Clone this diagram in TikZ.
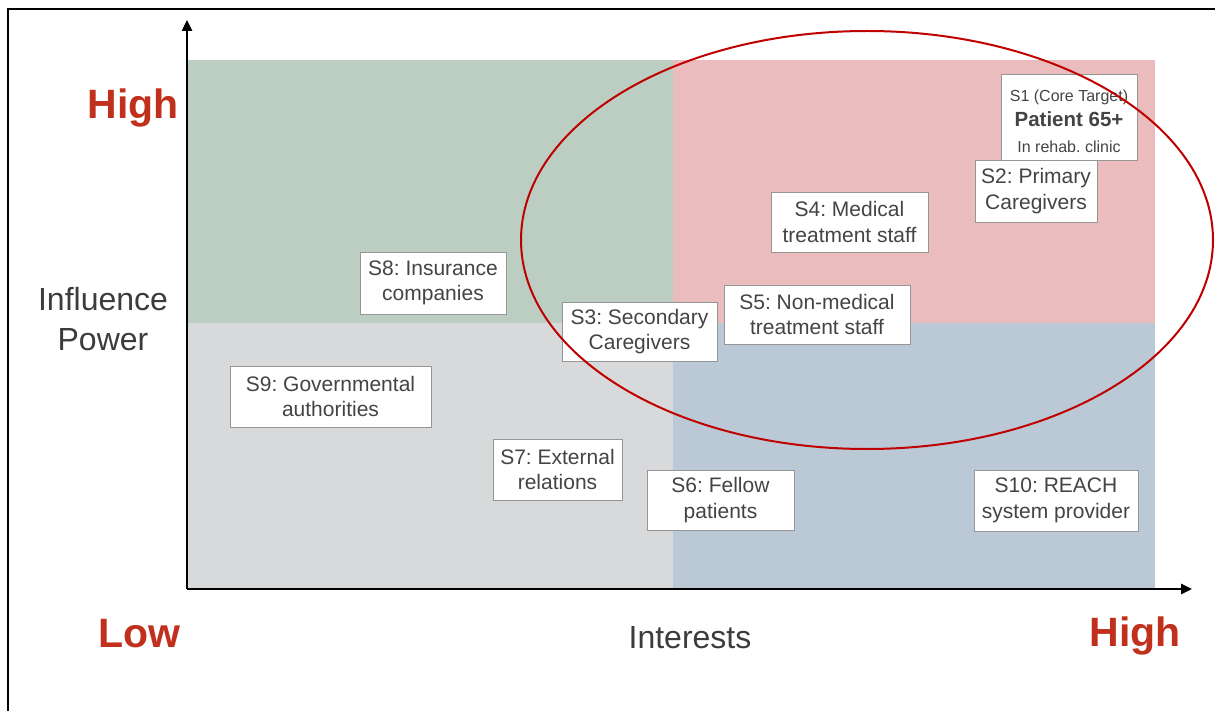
\documentclass[tikz,border=0pt]{standalone}
\usepackage{fontspec}
\setmainfont{Liberation Sans}
\usetikzlibrary{arrows.meta}
\definecolor{qgreen}{RGB}{188,206,194}
\definecolor{qpink}{RGB}{235,188,189}
\definecolor{qgray}{RGB}{216,217,219}
\definecolor{qblue}{RGB}{187,201,214}
\definecolor{lvlred}{RGB}{192,48,28}
\definecolor{ringred}{RGB}{192,0,0}
\definecolor{boxtext}{RGB}{68,68,68}
\definecolor{boxedge}{RGB}{150,150,150}
\definecolor{axtext}{RGB}{60,60,60}
\frenchspacing
\tikzset{
  stake/.style={draw=boxedge, line width=0.9pt, fill=white, text=boxtext,
    align=center, inner sep=0pt, font=\fontsize{21}{25.5}\selectfont},
  level/.style={text=lvlred, font=\fontsize{41}{45}\selectfont\bfseries},
  axlabel/.style={text=axtext, align=center, font=\fontsize{32}{40}\selectfont},
  axis/.style={line width=2.4pt, -{Triangle[length=11pt,width=10pt]}}
}
\begin{document}
\begin{tikzpicture}[x=1pt, y=-1pt]
\useasboundingbox (0,0) rectangle (1215,711);
% outer frame
\draw[line width=1.6pt] (8,711) -- (8,9) -- (1215,9);
% quadrants
\fill[qgreen] (187,60) rectangle (673,323);
\fill[qpink]  (673,60) rectangle (1155,323);
\fill[qgray]  (187,323) rectangle (673,589);
\fill[qblue]  (673,323) rectangle (1155,589);
% axes
\coordinate (origin) at (187,589);
\coordinate (ytip) at (187,20);
\coordinate (xtip) at (1192,589);
\draw[axis] (origin) -- (ytip);
\draw[axis] (origin) -- (xtip);
% axis labels
\node[level] (yhigh) at (133,108) {High};
\node[level] (xlow) at (139,634) {Low};
\node[level] (xhigh) at (1135,636) {High};
\node[axlabel] (ylab) at (103,319) {Influence\\Power};
\node[axlabel] (xlab) at (690,638) {Interests};
% stakeholders
\node[stake, minimum width=136pt, minimum height=86pt] (s1) at (1069,117)
  {{\fontsize{16}{25}\selectfont\rule{0pt}{20pt}S1 (Core Target)}\\
   {\fontsize{20.5}{26}\selectfont\bfseries Patient 65+}\\
   {\fontsize{16}{26}\selectfont In rehab. clinic}};
\node[stake, minimum width=122pt, minimum height=62pt] (s2) at (1036,191) {S2: Primary\\Caregivers};
\node[stake, minimum width=157pt, minimum height=60pt] (s4) at (849.5,222) {S4: Medical\\treatment staff};
\node[stake, minimum width=146pt, minimum height=62pt] (s8) at (433,283) {S8: Insurance\\companies};
\node[stake, minimum width=155pt, minimum height=59pt] (s3) at (639.5,331.5) {S3: Secondary\\Caregivers};
\node[stake, minimum width=186pt, minimum height=59pt] (s5) at (817,314.5) {S5: Non-medical\\treatment staff};
\node[stake, minimum width=201pt, minimum height=61pt] (s9) at (330.5,396.5) {S9: Governmental\\authorities};
\node[stake, minimum width=129pt, minimum height=61pt] (s7) at (557.5,469.5) {S7: External\\relations};
\node[stake, minimum width=147pt, minimum height=60pt] (s6) at (720.5,500) {S6: Fellow\\patients};
\node[stake, minimum width=164pt, minimum height=61pt] (s10) at (1056,500.5) {S10: REACH\\system provider};
% focus ring
\draw[ringred, line width=2pt] (867,240) ellipse [x radius=346, y radius=209];
\end{tikzpicture}
\end{document}
